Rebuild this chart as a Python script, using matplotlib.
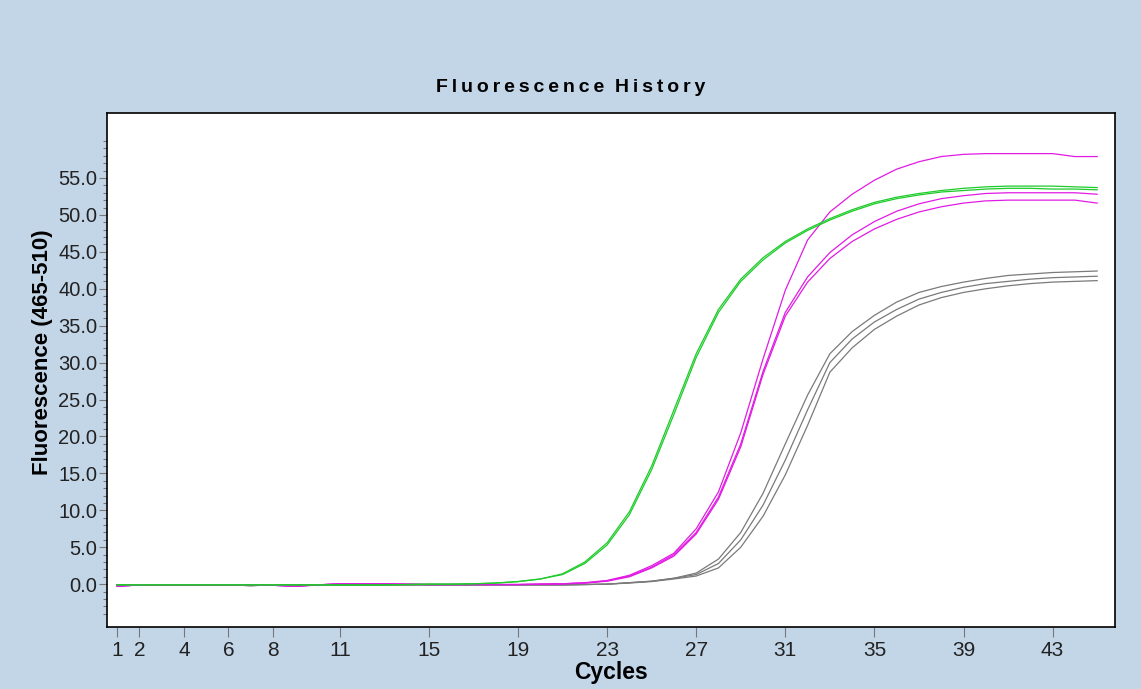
import matplotlib
matplotlib.use("Agg")
import matplotlib.pyplot as plt
from matplotlib.ticker import FixedLocator

# cycle numbers and fluorescence readings (465-510)
cycles = list(range(1, 46))

green_a = [-0.1, -0.1, -0.1, -0.1, -0.1, -0.1, -0.1, -0.1, -0.1, -0.1,
           -0.1, -0.1, -0.1, -0.05, 0.0, 0.0, 0.05, 0.15, 0.35, 0.7,
           1.4, 3.0, 5.6, 9.8, 16.0, 23.6, 31.2, 37.2, 41.3, 44.2,
           46.4, 48.1, 49.5, 50.7, 51.7, 52.4, 52.9, 53.3, 53.6, 53.8,
           53.9, 53.9, 53.9, 53.8, 53.7]
green_b = [-0.1, -0.1, -0.1, -0.1, -0.1, -0.1, -0.1, -0.1, -0.1, -0.1,
           -0.1, -0.1, -0.1, -0.05, 0.0, 0.0, 0.05, 0.15, 0.35, 0.7,
           1.3, 2.8, 5.3, 9.4, 15.5, 23.0, 30.7, 36.8, 41.0, 43.9,
           46.2, 47.9, 49.3, 50.5, 51.5, 52.2, 52.7, 53.1, 53.3, 53.5,
           53.6, 53.6, 53.5, 53.5, 53.4]
magenta_a = [-0.3, -0.1, -0.1, -0.1, -0.1, -0.1, -0.1, -0.15, -0.3, -0.1,
             0.05, 0.05, 0.05, 0.0, -0.05, -0.05, -0.05, -0.05, -0.05, 0.0,
             0.05, 0.2, 0.5, 1.2, 2.5, 4.2, 7.5, 12.5, 20.5, 30.5,
             39.8, 46.6, 50.4, 52.8, 54.7, 56.2, 57.2, 57.9, 58.2, 58.3,
             58.3, 58.3, 58.3, 57.9, 57.9]
magenta_b = [-0.3, -0.1, -0.1, -0.1, -0.1, -0.1, -0.1, -0.15, -0.3, -0.1,
             0.05, 0.05, 0.05, 0.0, -0.05, -0.05, -0.05, -0.05, -0.05, 0.0,
             0.05, 0.15, 0.45, 1.1, 2.3, 4.0, 7.0, 11.8, 19.0, 28.8,
             36.8, 41.6, 44.9, 47.3, 49.1, 50.5, 51.5, 52.2, 52.6, 52.9,
             53.0, 53.0, 53.0, 53.0, 52.8]
magenta_c = [-0.3, -0.1, -0.1, -0.1, -0.1, -0.1, -0.1, -0.15, -0.3, -0.1,
             0.05, 0.05, 0.05, 0.0, -0.05, -0.05, -0.05, -0.05, -0.05, 0.0,
             0.05, 0.15, 0.4, 1.0, 2.2, 3.8, 6.8, 11.5, 18.6, 28.4,
             36.3, 40.9, 44.1, 46.4, 48.1, 49.4, 50.4, 51.1, 51.6, 51.9,
             52.0, 52.0, 52.0, 52.0, 51.6]
gray_a = [-0.1, -0.1, -0.1, -0.1, -0.1, -0.1, -0.2, -0.1, -0.1, -0.1,
          -0.1, -0.1, -0.1, -0.1, -0.1, -0.1, -0.1, -0.1, -0.1, -0.1,
          -0.1, -0.05, 0.0, 0.2, 0.4, 0.8, 1.5, 3.4, 7.0, 12.3,
          19.0, 25.6, 31.2, 34.2, 36.4, 38.2, 39.5, 40.3, 40.9, 41.4,
          41.8, 42.0, 42.2, 42.3, 42.4]
gray_b = [-0.1, -0.1, -0.1, -0.1, -0.1, -0.1, -0.2, -0.1, -0.1, -0.1,
          -0.1, -0.1, -0.1, -0.1, -0.1, -0.1, -0.1, -0.1, -0.1, -0.1,
          -0.1, -0.05, 0.0, 0.2, 0.4, 0.8, 1.3, 2.8, 6.0, 10.7,
          16.8, 23.6, 30.0, 33.2, 35.5, 37.2, 38.6, 39.5, 40.2, 40.7,
          41.0, 41.3, 41.5, 41.6, 41.7]
gray_c = [-0.1, -0.1, -0.1, -0.1, -0.1, -0.1, -0.2, -0.1, -0.1, -0.1,
          -0.1, -0.1, -0.1, -0.1, -0.1, -0.1, -0.1, -0.1, -0.1, -0.1,
          -0.1, -0.05, 0.0, 0.15, 0.35, 0.7, 1.1, 2.2, 5.0, 9.2,
          14.8, 21.5, 28.7, 32.0, 34.5, 36.3, 37.8, 38.8, 39.5, 40.0,
          40.4, 40.7, 40.9, 41.0, 41.1]

x_ticks = [1, 2, 4, 6, 8, 11, 15, 19, 23, 27, 31, 35, 39, 43]
y_ticks = [0, 5, 10, 15, 20, 25, 30, 35, 40, 45, 50, 55]

BG = "#C3D6E8"
GREEN = "#1ECB2A"
MAGENTA = "#E11BE4"
GRAY = "#7A7A7A"
SANS = ["Liberation Sans", "DejaVu Sans"]
NARROW = ["Liberation Sans Narrow", "Liberation Sans", "DejaVu Sans"]

fig = plt.figure(figsize=(11.41, 6.89), dpi=100, facecolor=BG)
ax = fig.add_axes([0.0938, 0.090, 0.8834, 0.746])
ax.set_facecolor("white")

series = [
    (gray_a, GRAY), (gray_b, GRAY), (gray_c, GRAY),
    (magenta_c, MAGENTA), (magenta_b, MAGENTA), (magenta_a, MAGENTA),
    (green_b, GREEN), (green_a, GREEN),
]
for values, color in series:
    ax.plot(cycles, values, color=color, linewidth=0.9)

ax.set_xlim(0.55, 45.8)
ax.set_ylim(-5.8, 63.8)

ax.xaxis.set_major_locator(FixedLocator(x_ticks))
ax.set_xticklabels([str(t) for t in x_ticks], family=NARROW, fontsize=15, color="#222222")
ax.yaxis.set_major_locator(FixedLocator(y_ticks))
ax.set_yticklabels([f"{t:.1f}" for t in y_ticks], family=SANS, fontsize=14.5, color="#222222")
ax.yaxis.set_minor_locator(FixedLocator(list(range(-4, 61))))

ax.tick_params(axis="x", which="major", direction="out", length=7, width=0.8, color="#777777", pad=3)
ax.tick_params(axis="y", which="major", direction="out", length=6, width=0.8, color="#777777", pad=1)
ax.tick_params(axis="y", which="minor", direction="out", length=3, width=0.8, color="#777777")

for side in ("left", "right", "top", "bottom"):
    ax.spines[side].set_color("black")
    ax.spines[side].set_linewidth(1.2)

ax.set_xlabel("Cycles", family=NARROW, fontsize=16.5, fontweight="bold", labelpad=1)
ax.set_ylabel("Fluorescence (465-510)", family=SANS, fontsize=16, fontweight="bold")
ax.yaxis.set_label_coords(-0.054, 0.535)

title = "\u2009".join("Fluorescence") + "  " + "\u2009".join("History")
fig.text(0.5, 0.873, title, ha="center", va="center", family=SANS,
         fontsize=14, fontweight="bold", color="black")

fig.savefig("out.png", dpi=100, facecolor=BG)
